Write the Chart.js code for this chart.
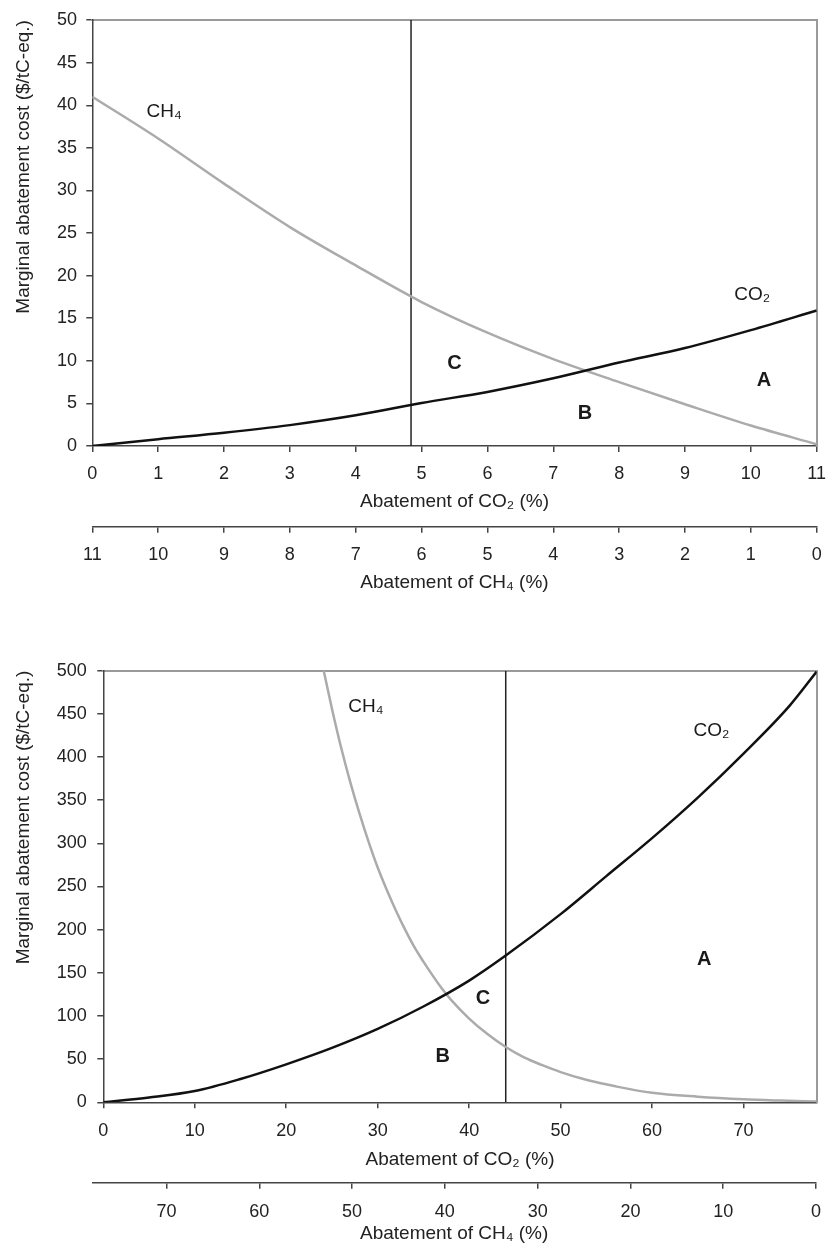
<!DOCTYPE html>
<html>
<head>
<meta charset="utf-8">
<script src="https://cdn.jsdelivr.net/npm/chart.js@4"></script>
<style>
  body { margin: 0; background: #fff; }
  #wrap { position: relative; width: 829px; height: 1252px; }
  canvas { position: absolute; left: 0; }
</style>
</head>
<body>
<div id="wrap">
  <canvas id="topMain" width="829" height="520" style="top:0px"></canvas>
  <canvas id="topCh4" width="829" height="80" style="top:520px"></canvas>
  <canvas id="botMain" width="829" height="575" style="top:600px"></canvas>
  <canvas id="botCh4" width="829" height="77" style="top:1175px"></canvas>
</div>
<script>
const FONT = '"Liberation Sans", Arial, sans-serif';
Chart.defaults.font.family = FONT;
Chart.defaults.color = '#222';

// upper panel (small abatement range)
const topCo2X = [0, 1, 2, 3, 4, 5, 6, 7, 8, 9, 10, 11];
const topCo2Y = [0, 0.8, 1.55, 2.45, 3.6, 5.05, 6.35, 7.95, 9.8, 11.5, 13.6, 15.9];
const topCh4X = [0, 1, 2, 3, 4, 5, 6, 7, 8, 9, 10, 11];
const topCh4Y = [41, 36.1, 30.8, 25.7, 21.2, 16.9, 13.3, 10.2, 7.5, 4.9, 2.4, 0.2];
const topCutX = [4.84, 4.84];
const topCutY = [0, 50];
const topYTicks = [0, 5, 10, 15, 20, 25, 30, 35, 40, 45, 50];
const topCo2Ticks = [0, 1, 2, 3, 4, 5, 6, 7, 8, 9, 10, 11];
const topCh4Ticks = [0, 1, 2, 3, 4, 5, 6, 7, 8, 9, 10, 11];
const topLabelText = ['CH₄', 'CO₂', 'A', 'B', 'C'];
const topLabelX = [1.09, 10.02, 10.2, 7.48, 5.5];
const topLabelY = [39.2, 17.7, 7.75, 3.8, 9.7];

// lower panel (large abatement range)
const botCo2X = [0, 5, 10, 15, 20, 25, 30, 35, 40, 44, 50, 55, 60, 65, 70, 75, 78];
const botCo2Y = [0, 5.5, 13, 27, 44, 63, 85, 111, 141, 170, 218, 262, 306, 353, 404, 459, 499];
const botCh4X = [24.1, 25, 26, 27, 28, 29, 30, 31, 32, 33, 34, 35, 36, 37, 38, 40, 42, 44, 46, 48, 50, 53, 56, 60, 65, 70, 74, 78];
const botCh4Y = [500, 456, 411, 371, 335, 302, 272, 246, 222, 200, 180, 163, 147, 132, 119, 97, 79, 64, 52, 43, 35, 25.5, 18.5, 11, 6.5, 3.5, 2, 0.8];
const botCutX = [44, 44];
const botCutY = [0, 500];
const botYTicks = [0, 50, 100, 150, 200, 250, 300, 350, 400, 450, 500];
const botCo2Ticks = [0, 10, 20, 30, 40, 50, 60, 70];
const botCh4Ticks = [0, 10, 20, 30, 40, 50, 60, 70];
const botLabelText = ['CH₄', 'CO₂', 'A', 'B', 'C'];
const botLabelX = [28.7, 66.5, 65.7, 37.1, 41.5];
const botLabelY = [458, 430, 165, 52.8, 120.5];

const pts = (xs, ys) => xs.map((x, i) => ({ x: x, y: ys[i] }));

const curveLabels = {
  id: 'curveLabels',
  afterDatasetsDraw(chart, args, opts) {
    const ctx = chart.ctx;
    const xs = chart.scales.x, ys = chart.scales.y;
    ctx.save();
    ctx.fillStyle = '#1a1a1a';
    ctx.textAlign = 'center';
    ctx.textBaseline = 'middle';
    opts.text.forEach((t, i) => {
      const bold = t.length === 1;
      ctx.font = (bold ? 'bold 20px ' : '19px ') + FONT;
      ctx.fillText(t, xs.getPixelForValue(opts.x[i]), ys.getPixelForValue(opts.y[i]));
    });
    ctx.restore();
  }
};

// no label overflow padding, the layout padding alone places the plot
const noSidePad = s => { s.paddingLeft = 0; s.paddingRight = 0; };

function mainChart(id, c) {
  return new Chart(document.getElementById(id), {
    type: 'line',
    data: {
      datasets: [
        { data: pts(c.co2X, c.co2Y), borderColor: '#111', borderWidth: 2.5, pointRadius: 0, cubicInterpolationMode: 'monotone' },
        { data: pts(c.ch4X, c.ch4Y), borderColor: '#ababab', borderWidth: 2.5, pointRadius: 0, cubicInterpolationMode: 'monotone' },
        { data: pts(c.cutX, c.cutY), borderColor: '#222', borderWidth: 1.5, pointRadius: 0 }
      ]
    },
    options: {
      responsive: false,
      animation: false,
      events: [],
      layout: { padding: { left: 0, right: 12.3, top: c.padTop, bottom: 0 } },
      plugins: {
        legend: { display: false },
        tooltip: { enabled: false },
        curveLabels: { text: c.labelText, x: c.labelX, y: c.labelY }
      },
      scales: {
        x: {
          type: 'linear', min: 0, max: c.xMax,
          afterBuildTicks: s => { s.ticks = c.xTicks.map(v => ({ value: v })); },
          afterFit: s => { s.height = c.xHeight; noSidePad(s); },
          grid: { drawOnChartArea: false, tickLength: 6, color: '#444', lineWidth: 1.5 },
          border: { color: '#444', width: 1.5 },
          ticks: { padding: c.xPad, autoSkip: false, maxRotation: 0, font: { size: 18 } },
          title: { display: true, text: 'Abatement of CO₂ (%)', padding: { top: 0, bottom: c.xTitlePad }, font: { size: 19 } }
        },
        x2: {
          type: 'linear', position: 'top', display: true,
          afterFit: s => { s.height = 0; noSidePad(s); },
          grid: { display: false },
          ticks: { display: false },
          border: { color: '#9a9a9a', width: 2 }
        },
        y: {
          type: 'linear', min: 0, max: c.yMax,
          afterBuildTicks: s => { s.ticks = c.yTicks.map(v => ({ value: v })); },
          afterFit: s => { s.width = c.yWidth; },
          grid: { drawOnChartArea: false, tickLength: 6, color: '#444', lineWidth: 1.5 },
          border: { color: '#444', width: 1.5 },
          ticks: { padding: c.yPad, font: { size: 18 } },
          title: { display: true, text: 'Marginal abatement cost ($/tC-eq.)', align: 'end', padding: { top: 12.6, bottom: 0 }, font: { size: 19 } }
        },
        y2: {
          type: 'linear', position: 'right', display: true,
          afterFit: s => { s.width = 0; },
          grid: { display: false },
          ticks: { display: false },
          border: { color: '#9a9a9a', width: 2 }
        }
      }
    },
    plugins: [curveLabels]
  });
}

function ch4Axis(id, c) {
  return new Chart(document.getElementById(id), {
    type: 'line',
    data: { datasets: [] },
    options: {
      responsive: false,
      animation: false,
      events: [],
      layout: { padding: { left: 92.3, right: c.padRight, top: 0, bottom: 0 } },
      plugins: { legend: { display: false }, tooltip: { enabled: false } },
      scales: {
        x: {
          type: 'linear', min: 0, max: c.xMax, reverse: true,
          afterBuildTicks: s => { s.ticks = c.xTicks.map(v => ({ value: v })); },
          afterFit: s => { s.height = c.xHeight; noSidePad(s); },
          grid: { drawOnChartArea: false, tickLength: 6, color: '#444', lineWidth: 1.5 },
          border: { color: '#444', width: 1.5 },
          ticks: { padding: c.xPad, autoSkip: false, maxRotation: 0, font: { size: 18 } },
          title: { display: true, text: 'Abatement of CH₄ (%)', padding: { top: 0, bottom: c.xTitlePad }, font: { size: 19 } }
        },
        y: { display: false }
      }
    }
  });
}

mainChart('topMain', {
  co2X: topCo2X, co2Y: topCo2Y, ch4X: topCh4X, ch4Y: topCh4Y, cutX: topCutX, cutY: topCutY,
  labelText: topLabelText, labelX: topLabelX, labelY: topLabelY,
  xMax: 11, xTicks: topCo2Ticks, yMax: 50, yTicks: topYTicks,
  padTop: 14, xHeight: 74, xPad: 11.2, xTitlePad: 6.6, yWidth: 92.3, yPad: 9.3
});
ch4Axis('topCh4', { xMax: 11, xTicks: topCh4Ticks, padRight: 12.3, xHeight: 73.3, xPad: 11.5, xTitlePad: 5.6 });

mainChart('botMain', {
  co2X: botCo2X, co2Y: botCo2Y, ch4X: botCh4X, ch4Y: botCh4Y, cutX: botCutX, cutY: botCutY,
  labelText: botLabelText, labelX: botLabelX, labelY: botLabelY,
  xMax: 78, xTicks: botCo2Ticks, yMax: 500, yTicks: botYTicks,
  padTop: 70.7, xHeight: 72.7, xPad: 11.6, xTitlePad: 3.6, yWidth: 103.3, yPad: 10.6
});
ch4Axis('botCh4', { xMax: 78, xTicks: botCh4Ticks, padRight: 13, xHeight: 69.3, xPad: 12.2, xTitlePad: 6.6 });
</script>
</body>
</html>
